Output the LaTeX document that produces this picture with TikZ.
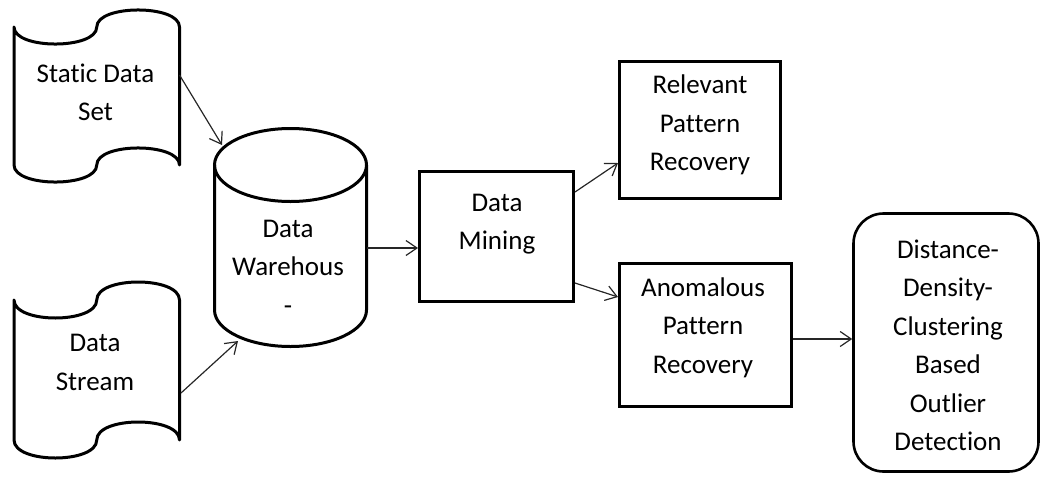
\documentclass[tikz,border=0pt]{standalone}
\usepackage{fontspec}
\setmainfont{Carlito}[Ligatures={NoCommon,NoContextual}]
\usetikzlibrary{arrows.meta}
\tikzset{
  outline/.style={draw=black, line width=3pt},
  boxnode/.style={outline, rectangle, inner sep=0pt},
  roundnode/.style={draw=black, line width=2.6pt, rectangle, rounded corners=30pt, inner sep=0pt},
  lbl/.style={font=\fontsize{27}{38.5}\selectfont, align=center, inner sep=0pt, text=black},
  arr/.style={draw=black!85, line width=1.2pt, -{Straight Barb[length=11pt,width=15pt,line width=1.2pt]}}
}
\begin{document}
\begin{tikzpicture}[x=1pt,y=-1pt]
\useasboundingbox (0,0) rectangle (1041,477);
% Static Data Set (punched tape)
\draw[outline, line join=round] (14,27) .. controls (14,49.7) and (96.75,49.7) .. (96.75,27)
  .. controls (96.75,4.3) and (179.5,4.3) .. (179.5,27) -- (179.5,165)
  .. controls (179.5,142.3) and (96.75,142.3) .. (96.75,165)
  .. controls (96.75,187.7) and (14,187.7) .. (14,165) -- cycle;
\node[lbl] (sds) at (95.5,92.5) {Static Data\\Set};
% Data Stream (punched tape)
\draw[outline, line join=round] (14,300) .. controls (14,324) and (96.75,324) .. (96.75,300)
  .. controls (96.75,276) and (179.5,276) .. (179.5,300) -- (179.5,440)
  .. controls (179.5,416) and (96.75,416) .. (96.75,440)
  .. controls (96.75,464) and (14,464) .. (14,440) -- cycle;
\node[lbl] (ds) at (95,362.5) {Data\\Stream};
% Data Warehouse (cylinder)
\draw[outline] (214.5,165) -- (214.5,310)
  .. controls (214.5,330.2) and (248.5,346.5) .. (290.5,346.5)
  .. controls (332.5,346.5) and (366.5,330.2) .. (366.5,310) -- (366.5,165);
\draw[outline] (290.5,165) ellipse [x radius=76, y radius=36.5];
\node[lbl] (dw) at (288,267) {Data\\Warehous\\-};
% Boxes
\node[boxnode, minimum width=154pt, minimum height=130pt] (dm) at (496.5,236.5) {};
\node[lbl] (dmt) at (497,224) {Data\\Mining};
\node[boxnode, minimum width=161pt, minimum height=137pt] (rel) at (700,130) {};
\node[lbl] (relt) at (700,125) {Relevant\\Pattern\\Recovery};
\node[boxnode, minimum width=172pt, minimum height=143pt] (anom) at (705.5,335) {};
\node[lbl] (anomt) at (703,327.5) {Anomalous\\Pattern\\Recovery};
\node[roundnode, minimum width=185pt, minimum height=258pt] (out) at (946,342.5) {};
\node[lbl] (outt) at (948,345.5) {Distance-\\Density-\\Clustering\\Based\\Outlier\\Detection};
% Connector end points on drawn shapes
\coordinate (sdsOut) at (179.5,75);
\coordinate (dwIn1) at (222,145);
\coordinate (dsOut) at (181,393);
\coordinate (dwIn2) at (238,341);
\coordinate (dwOut) at (366.5,248);
% Connectors
\draw[arr] (sdsOut) -- (dwIn1);
\draw[arr] (dsOut) -- (dwIn2);
\draw[arr] (dwOut) -- (dm.west |- dwOut);
\draw[arr] ([yshift=44.5pt]dm.east) -- ([yshift=-33pt]rel.west);
\draw[arr] ([yshift=-46.5pt]dm.east) -- ([yshift=38pt]anom.west);
\draw[arr] ([yshift=-4pt]anom.east) -- ([yshift=-4pt]anom.east -| out.west);
\end{tikzpicture}
\end{document}
